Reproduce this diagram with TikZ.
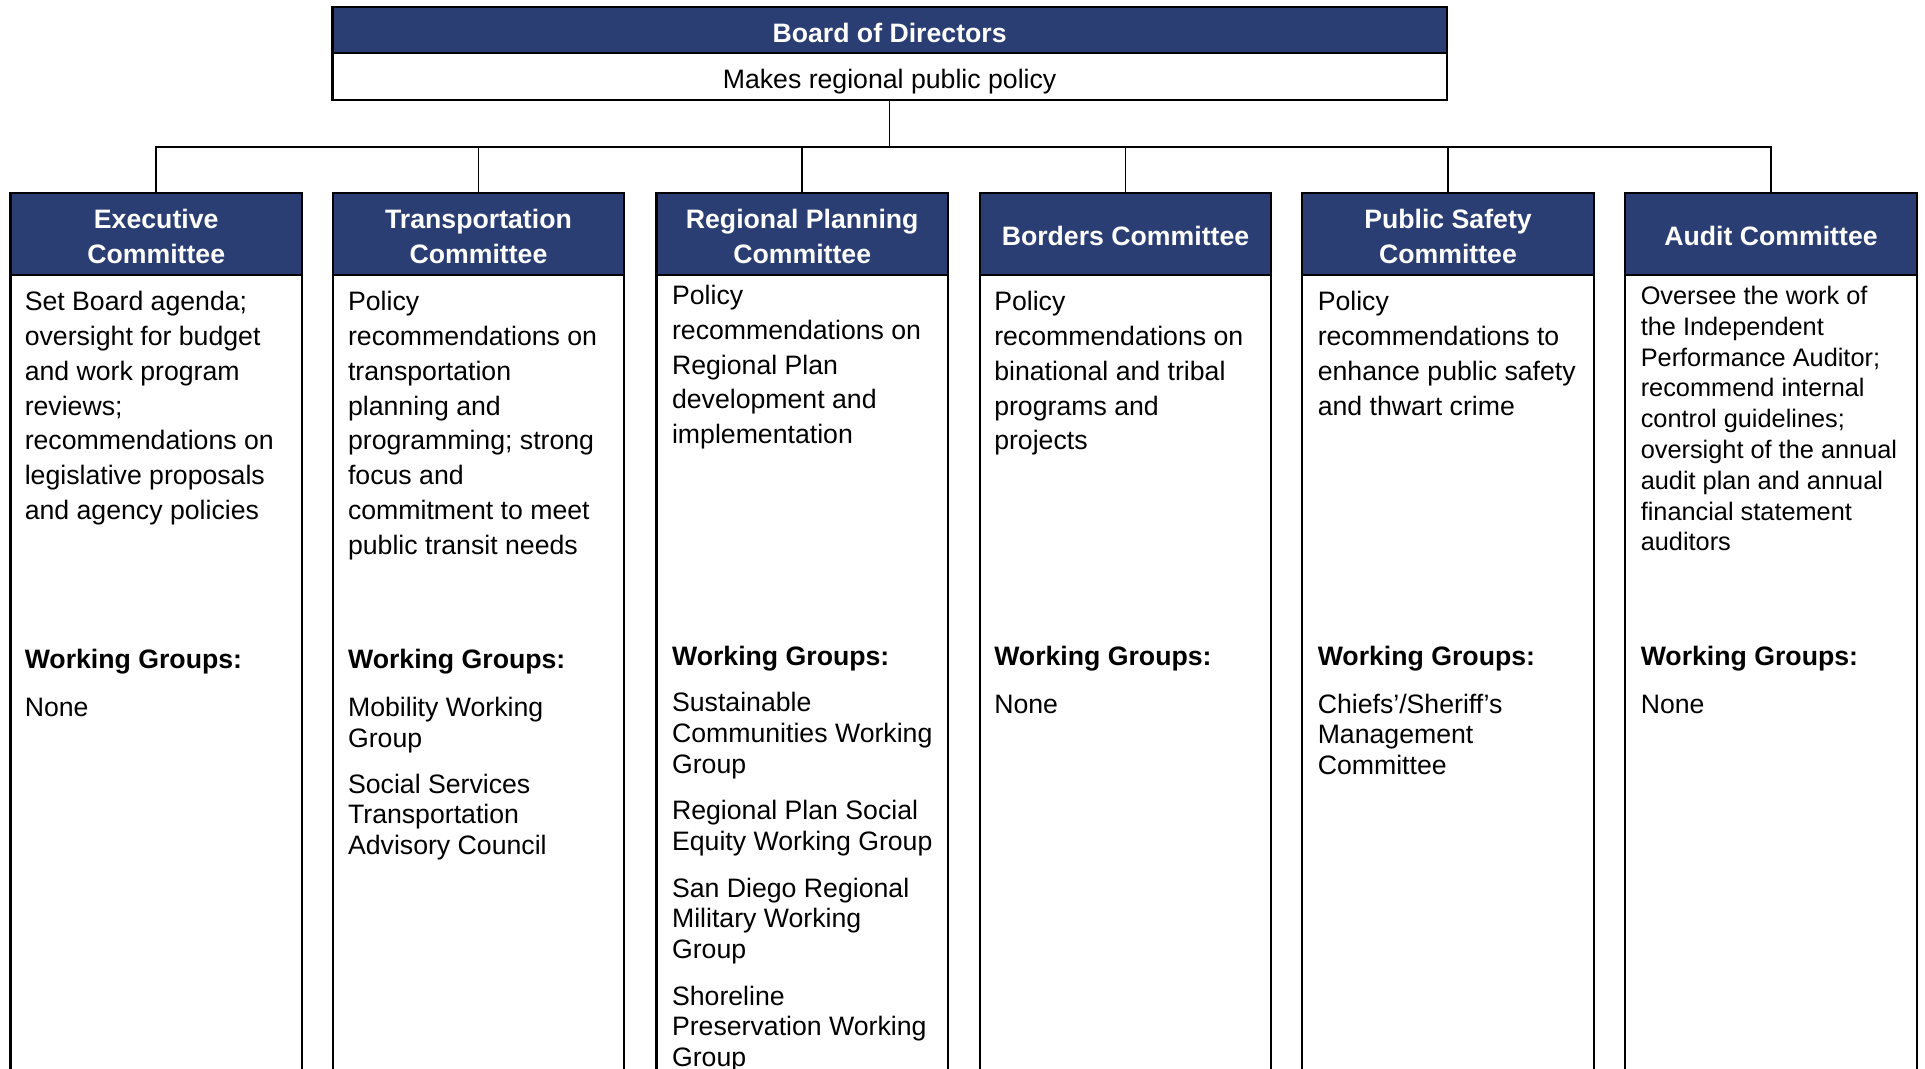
\documentclass[tikz,border=0pt]{standalone}
\usepackage{fontspec}
\setmainfont{Liberation Sans}
\definecolor{navy}{RGB}{42,62,116}
\tikzset{
  boxline/.style={draw=black, line width=1.6pt},
  hdr/.style={boxline, fill=navy, minimum width=218.6pt, minimum height=61.7pt, inner sep=0pt, outer sep=0pt},
  conn/.style={draw=black, line width=1.3pt},
  htxt/.style={anchor=base, inner sep=0pt, text=white, font=\fontsize{20pt}{25.8pt}\selectfont\bfseries},
  btxt/.style={anchor=base west, inner sep=0pt, text=black, font=\fontsize{20pt}{26.1pt}\selectfont},
  atxt/.style={anchor=base west, inner sep=0pt, text=black, font=\fontsize{19pt}{23.1pt}\selectfont},
  wtxt/.style={anchor=base west, inner sep=0pt, text=black, font=\fontsize{20pt}{23pt}\selectfont},
  wgh/.style={anchor=base west, inner sep=0pt, text=black, font=\fontsize{20pt}{23pt}\selectfont\bfseries},
}
\newcommand{\pb}[1]{\parbox[t]{240pt}{\raggedright #1}}
\newcommand{\pc}[1]{\parbox[t]{218pt}{\centering #1}}
\begin{document}
\begin{tikzpicture}[x=0.75pt,y=-0.75pt]
\useasboundingbox (0,0) rectangle (1925,1068);
\clip (0,0) rectangle (1925,1068);
\fill[white] (0,0) rectangle (1925,1068);

% Board of Directors
\node[boxline, fill=navy, minimum width=835.7pt, minimum height=34.5pt, inner sep=0pt, outer sep=0pt] (bhdr) at (889.6,30.3) {};
\node[boxline, fill=white, minimum width=835.7pt, minimum height=35pt, inner sep=0pt, outer sep=0pt, anchor=north] (bbody) at (bhdr.south) {};
\node[htxt] (btitle) at (889.6,42.5) {Board of Directors};
\node[anchor=base, inner sep=0pt, font=\fontsize{20pt}{24pt}\selectfont] (bsub) at (889.6,88.5) {Makes regional public policy};

% Committee headers
\node[hdr] (exec) at (156.2,233.9) {};
\node[hdr] (trans) at (478.5,233.9) {};
\node[hdr] (regional) at (802.2,233.9) {};
\node[hdr] (borders) at (1125.5,233.9) {};
\node[hdr] (public) at (1448,233.9) {};
\node[hdr] (audit) at (1771,233.9) {};

% bodies
\foreach \n in {exec,trans,regional,borders,public,audit}{
  \draw[boxline] (\n.south west) rectangle ++(291.5,830);
}

% connectors
\coordinate (bus) at (0,146.7);
\draw[conn] (bbody.south) -- (bbody.south |- bus);
\draw[conn] (exec.north) -- (exec.north |- bus) -- (audit.north |- bus) -- (audit.north);
\foreach \n in {trans,regional,borders,public}{
  \draw[conn] (\n.north) -- (\n.north |- bus);
}

% header texts
\node[htxt] (exech) at (156.2,228.8) {\pc{Executive\\Committee}};
\node[htxt] (transh) at (478.5,228.8) {\pc{Transportation\\Committee}};
\node[htxt] (regionalh) at (802.2,228.8) {\pc{Regional Planning\\Committee}};
\node[htxt] (bordersh) at (1125.5,245.2) {\pc{Borders Committee}};
\node[htxt] (publich) at (1448,228.8) {\pc{Public Safety\\Committee}};
\node[htxt] (audith) at (1771,245.2) {\pc{Audit Committee}};

% body texts
\node[btxt] (exect) at (24.5,310.7) {\pb{Set Board agenda;\\oversight for budget\\and work program\\reviews;\\recommendations on\\legislative proposals\\and agency policies}};
\node[btxt] (transt) at (347.8,310.7) {\pb{Policy\\recommendations on\\transportation\\planning and\\programming; strong\\focus and\\commitment to meet\\public transit needs}};
\node[btxt] (regionalt) at (671.8,304.5) {\pb{Policy\\recommendations on\\Regional Plan\\development and\\implementation}};
\node[btxt] (borderst) at (994,310.7) {\pb{Policy\\recommendations on\\binational and tribal\\programs and\\projects}};
\node[btxt] (publict) at (1317.5,310.7) {\pb{Policy\\recommendations to\\enhance public safety\\and thwart crime}};
\node[atxt] (auditt) at (1640.5,304.5) {\pb{Oversee the work of\\the Independent\\Performance Auditor;\\recommend internal\\control guidelines;\\oversight of the annual\\audit plan and annual\\financial statement\\auditors}};

% working groups
\node[wgh] (execw) at (24.5,668.5) {Working Groups:};
\node[wtxt] (execw1) at (24.5,716.6) {None};

\node[wgh] (transw) at (347.8,668.5) {Working Groups:};
\node[wtxt] (transw1) at (347.8,716.7) {\pb{Mobility Working\\Group}};
\node[wtxt] (transw2) at (347.8,793) {\pb{Social Services\\Transportation\\Advisory Council}};

\node[wgh] (regionalw) at (671.8,665) {Working Groups:};
\node[wtxt] (regionalw1) at (671.8,711.7) {\pb{Sustainable\\Communities Working\\Group}};
\node[wtxt] (regionalw2) at (671.8,819.8) {\pb{Regional Plan Social\\Equity Working Group}};
\node[wtxt] (regionalw3) at (671.8,897.2) {\pb{San Diego Regional\\Military Working\\Group}};
\node[wtxt] (regionalw4) at (671.8,1005.3) {\pb{Shoreline\\Preservation Working\\Group}};

\node[wgh] (bordersw) at (994,665) {Working Groups:};
\node[wtxt] (bordersw1) at (994,713) {None};

\node[wgh] (publicw) at (1317.5,665) {Working Groups:};
\node[wtxt] (publicw1) at (1317.5,713) {\pb{Chiefs’/Sheriff’s\\Management\\Committee}};

\node[wgh] (auditw) at (1640.5,665) {Working Groups:};
\node[wtxt] (auditw1) at (1640.5,713) {None};
\end{tikzpicture}
\end{document}
